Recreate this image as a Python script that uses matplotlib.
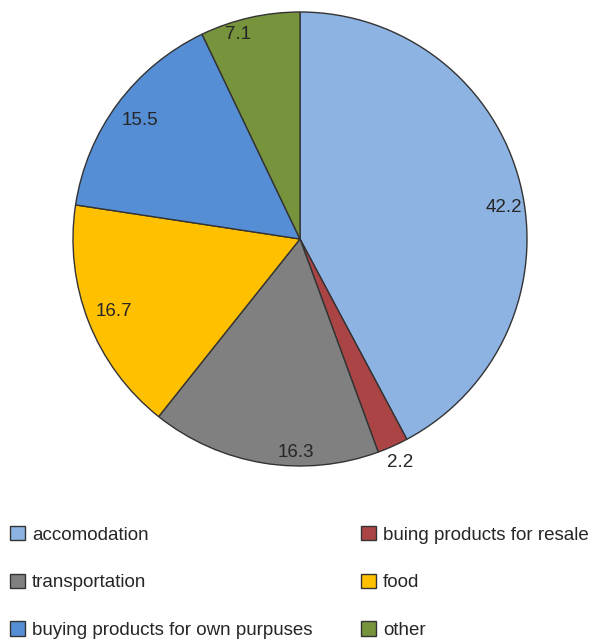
import matplotlib.pyplot as plt
import matplotlib.patches as mpatches
import numpy as np

plt.rcParams['font.family'] = ['Liberation Sans', 'DejaVu Sans']

# Data
categories = ['accomodation', 'buing products for resale', 'transportation',
              'food', 'buying products for own purpuses', 'other']
values = [42.2, 2.2, 16.3, 16.7, 15.5, 7.1]
colors = ['#8DB3E2', '#AB4545', '#808080', '#FFC000', '#558ED5', '#77933C']
# label placement: radial distance and small angular nudge (degrees)
label_dist = [0.91, 1.08, 0.94, 0.88, 0.88, 0.94]
label_shift = [-5.4, 0, 8, 0, 0, 4]

fig = plt.figure(figsize=(5.93, 6.4), dpi=100)
ax = fig.add_axes([73 / 593, (640 - 466) / 640, 454 / 593, 454 / 640])

wedges, _ = ax.pie(values, colors=colors, startangle=90, counterclock=False,
                   wedgeprops=dict(edgecolor='#333333', linewidth=1))
ax.set_aspect('equal')
ax.set_xlim(-1, 1)
ax.set_ylim(-1, 1)

# value labels
for w, v, d, s in zip(wedges, values, label_dist, label_shift):
    ang = np.deg2rad((w.theta1 + w.theta2) / 2 + s)
    ax.text(d * np.cos(ang), d * np.sin(ang), f'{v:.1f}', ha='center', va='center',
            fontsize=13.5, color='#262626')

# legend: two columns, filled column-wise
order = [0, 2, 4, 1, 3, 5]
handles = [mpatches.Patch(facecolor=colors[i], edgecolor='#333333', linewidth=1) for i in order]
labels = [categories[i] for i in order]
fig.legend(handles, labels, loc='upper left', bbox_to_anchor=(0.005, 0.19), ncol=2,
           frameon=False, fontsize=13.5, handlelength=0.8, handleheight=0.8,
           handletextpad=0.35, columnspacing=2.6, labelspacing=1.6, borderaxespad=0,
           labelcolor='#262626')

fig.savefig('out.png', dpi=100)
